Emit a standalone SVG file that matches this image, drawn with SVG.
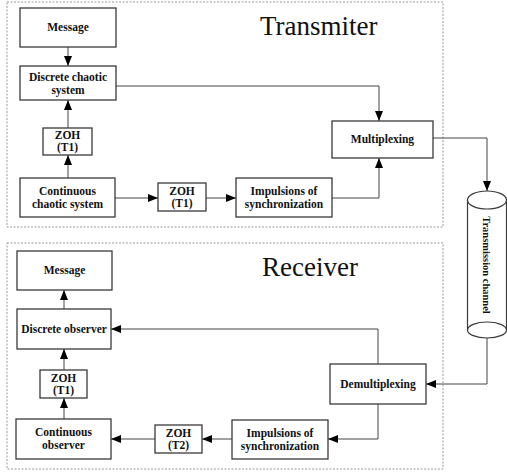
<svg xmlns="http://www.w3.org/2000/svg" width="507" height="472" viewBox="0 0 507 472">
<defs>
<marker id="ah" viewBox="0 0 10 8" refX="10" refY="4" markerWidth="10" markerHeight="8" markerUnits="userSpaceOnUse" orient="auto">
<path d="M0,0 L10,4 L0,8 Z" fill="#000"/>
</marker>
</defs>
<style>
.frame{fill:none;stroke:#9a9a9a;stroke-width:1;stroke-dasharray:2,1.5}
.box{fill:#fff;stroke:#3a3a3a;stroke-width:1.3}
.lbl{font-family:"Liberation Serif","Times New Roman",serif;font-weight:bold;font-size:11.5px;fill:#111;text-anchor:middle}
.title{font-family:"Liberation Serif","Times New Roman",serif;font-size:27px;fill:#111}
.ln{fill:none;stroke:#444;stroke-width:1}
.arr{marker-end:url(#ah)}
</style>
<rect class="frame" x="7" y="2" width="436" height="225"/>
<rect class="frame" x="7" y="243" width="436" height="226"/>
<text class="title" x="260" y="35">Transmiter</text>
<text class="title" x="262" y="276">Receiver</text>
<g id="connectors">
<line class="ln arr" x1="68" y1="47" x2="68" y2="66"/>
<line class="ln arr" x1="68" y1="128" x2="68" y2="100"/>
<line class="ln arr" x1="68" y1="178" x2="68" y2="155"/>
<line class="ln arr" x1="115" y1="198" x2="158" y2="198"/>
<line class="ln arr" x1="206" y1="198" x2="236" y2="198"/>
<polyline class="ln arr" points="332,198 379,198 379,158"/>
<polyline class="ln arr" points="116,86 379,86 379,121"/>
<polyline class="ln arr" points="433,138 487,138 487,191"/>
<polyline class="ln arr" points="487,338 487,384 426,384"/>
<polyline class="ln arr" points="378,364 378,329 111,329"/>
<polyline class="ln arr" points="378,404 378,439 328,439"/>
<line class="ln arr" x1="232" y1="439" x2="202" y2="439"/>
<line class="ln arr" x1="155" y1="439" x2="111" y2="439"/>
<line class="ln arr" x1="64" y1="419" x2="64" y2="398"/>
<line class="ln arr" x1="64" y1="370" x2="64" y2="349"/>
<line class="ln arr" x1="64" y1="309" x2="64" y2="290"/>
</g>
<g id="t_message"><rect class="box" x="20" y="8" width="96" height="39"/><text class="lbl" x="68" y="31">Message</text></g>
<g id="t_discrete"><rect class="box" x="20" y="66" width="96" height="34"/><text class="lbl" x="68" y="80.5">Discrete chaotic</text><text class="lbl" x="68" y="93.5">system</text></g>
<g id="t_zoh1"><rect class="box" x="43" y="128" width="49" height="27"/><text class="lbl" x="67.5" y="139">ZOH</text><text class="lbl" x="67.5" y="151">(T1)</text></g>
<g id="t_continuous"><rect class="box" x="20" y="178" width="95" height="39"/><text class="lbl" x="67.5" y="195">Continuous</text><text class="lbl" x="67.5" y="208">chaotic system</text></g>
<g id="t_zoh2"><rect class="box" x="158" y="183" width="48" height="28"/><text class="lbl" x="182" y="195">ZOH</text><text class="lbl" x="182" y="207">(T1)</text></g>
<g id="t_impulsions"><rect class="box" x="236" y="178" width="96" height="39"/><text class="lbl" x="284" y="195">Impulsions of</text><text class="lbl" x="284" y="208">synchronization</text></g>
<g id="t_multiplexing"><rect class="box" x="332" y="121" width="101" height="37"/><text class="lbl" x="382.5" y="143">Multiplexing</text></g>
<g id="channel">
<path d="M467.5,200 L467.5,330 A19.5,8 0 0 0 506.5,330 L506.5,200" fill="#fff" stroke="#3a3a3a" stroke-width="1.2"/>
<ellipse cx="487" cy="200" rx="19.5" ry="9" fill="#fff" stroke="#3a3a3a" stroke-width="1.2"/>
<path d="M467.5,330 A19.5,8 0 0 1 506.5,330" fill="none" stroke="#3a3a3a" stroke-width="1.2"/>
<text class="lbl" transform="translate(483,265) rotate(90)" x="0" y="0" style="font-size:10.5px">Transmission channel</text>
</g>
<g id="r_message"><rect class="box" x="17" y="251" width="95" height="39"/><text class="lbl" x="64.5" y="274">Message</text></g>
<g id="r_discrete"><rect class="box" x="17" y="309" width="94" height="40"/><text class="lbl" x="64" y="333">Discrete observer</text></g>
<g id="r_zoh1"><rect class="box" x="40" y="370" width="47" height="28"/><text class="lbl" x="63.5" y="382">ZOH</text><text class="lbl" x="63.5" y="394">(T1)</text></g>
<g id="r_continuous"><rect class="box" x="16" y="419" width="95" height="40"/><text class="lbl" x="63.5" y="436">Continuous</text><text class="lbl" x="63.5" y="449">observer</text></g>
<g id="r_zoh2"><rect class="box" x="155" y="425" width="47" height="28"/><text class="lbl" x="178.5" y="437">ZOH</text><text class="lbl" x="178.5" y="449">(T2)</text></g>
<g id="r_impulsions"><rect class="box" x="232" y="420" width="96" height="39"/><text class="lbl" x="280" y="437">Impulsions of</text><text class="lbl" x="280" y="450">synchronization</text></g>
<g id="r_demultiplexing"><rect class="box" x="330" y="364" width="96" height="40"/><text class="lbl" x="378" y="388">Demultiplexing</text></g>
</svg>
